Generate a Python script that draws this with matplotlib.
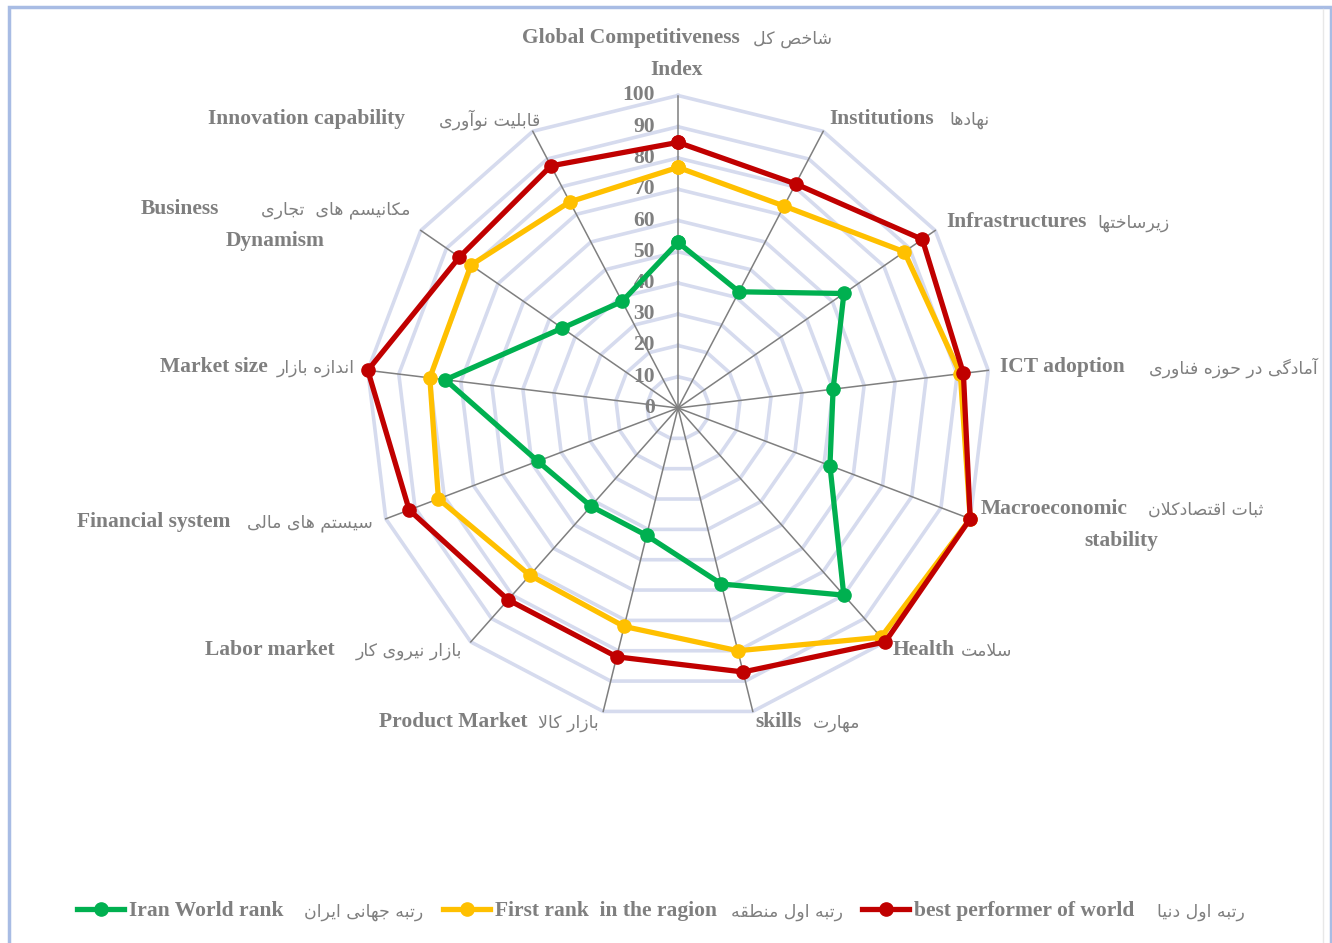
import numpy as np
import matplotlib.pyplot as plt
from matplotlib.patches import Rectangle
from matplotlib.transforms import offset_copy

# داده ها
labels_en = ['Global Competitiveness\nIndex', 'Institutions', 'Infrastructures', 'ICT adoption',
             'Macroeconomic\nstability', 'Health', 'skills', 'Product Market', 'Labor market',
             'Financial system', 'Market size', 'Business\nDynamism', 'Innovation capability']
labels_fa = ['شاخص کل', 'نهادها', 'زیرساختها', 'آمادگی در حوزه فناوری', 'ثبات اقتصادکلان',
             'سلامت', 'مهارت', 'بازار کالا', 'بازار نیروی کار', 'سیستم های مالی',
             'اندازه بازار', 'مکانیسم های  تجاری', 'قابلیت نوآوری']
iran = [53, 42, 64.5, 50, 52, 80, 58, 42, 42, 48, 75, 45, 38.5]
region = [77, 73, 88, 91, 100, 98, 80, 72, 71.5, 82, 80, 80.5, 74.5]
best = [85, 81, 95, 92, 100, 100, 87, 82, 82, 92, 100, 85, 87.5]
series_en = ['Iran World rank', 'First rank  in the ragion', 'best performer of world']
series_fa = ['رتبه جهانی ایران', 'رتبه اول منطقه', 'رتبه اول دنیا']
levels = list(range(0, 101, 10))

# شکل دادن حروف فارسی (matplotlib خودش این کار را نمی کند)
FORMS = {
    'ا': ('\uFE8D', '\uFE8E', None, None), 'آ': ('\uFE81', '\uFE82', None, None),
    'ب': ('\uFE8F', '\uFE90', '\uFE91', '\uFE92'), 'ت': ('\uFE95', '\uFE96', '\uFE97', '\uFE98'),
    'ث': ('\uFE99', '\uFE9A', '\uFE9B', '\uFE9C'), 'ج': ('\uFE9D', '\uFE9E', '\uFE9F', '\uFEA0'),
    'ح': ('\uFEA1', '\uFEA2', '\uFEA3', '\uFEA4'), 'خ': ('\uFEA5', '\uFEA6', '\uFEA7', '\uFEA8'),
    'د': ('\uFEA9', '\uFEAA', None, None), 'ر': ('\uFEAD', '\uFEAE', None, None),
    'ز': ('\uFEAF', '\uFEB0', None, None), 'س': ('\uFEB1', '\uFEB2', '\uFEB3', '\uFEB4'),
    'ش': ('\uFEB5', '\uFEB6', '\uFEB7', '\uFEB8'), 'ص': ('\uFEB9', '\uFEBA', '\uFEBB', '\uFEBC'),
    'ط': ('\uFEC1', '\uFEC2', '\uFEC3', '\uFEC4'), 'ف': ('\uFED1', '\uFED2', '\uFED3', '\uFED4'),
    'ق': ('\uFED5', '\uFED6', '\uFED7', '\uFED8'), 'ک': ('\uFB8E', '\uFB8F', '\uFB90', '\uFB91'),
    'گ': ('\uFB92', '\uFB93', '\uFB94', '\uFB95'), 'ل': ('\uFEDD', '\uFEDE', '\uFEDF', '\uFEE0'),
    'م': ('\uFEE1', '\uFEE2', '\uFEE3', '\uFEE4'), 'ن': ('\uFEE5', '\uFEE6', '\uFEE7', '\uFEE8'),
    'ه': ('\uFEE9', '\uFEEA', '\uFEEB', '\uFEEC'), 'و': ('\uFEED', '\uFEEE', None, None),
    'ی': ('\uFBFC', '\uFBFD', '\uFBFE', '\uFBFF'),
}
LAM_ALEF = {'ا': ('\uFEFB', '\uFEFC'), 'آ': ('\uFEF5', '\uFEF6')}


def fa(s):
    s = s.replace('ي', 'ی').replace('ك', 'ک')
    units = []
    i = 0
    while i < len(s):
        if s[i] == 'ل' and i + 1 < len(s) and s[i + 1] in LAM_ALEF:
            units.append('L' + s[i + 1])
            i += 2
        else:
            units.append(s[i])
            i += 1
    out = []
    for k, u in enumerate(units):
        prev = units[k - 1] if k > 0 else None
        nxt = units[k + 1] if k + 1 < len(units) else None
        p = prev in FORMS and FORMS[prev][2] is not None
        n = nxt is not None and (nxt in FORMS or nxt[0] == 'L' and len(nxt) == 2)
        if len(u) == 2:
            out.append(LAM_ALEF[u[1]][1 if p else 0])
        elif u in FORMS:
            f = FORMS[u]
            if p and n and f[2]:
                out.append(f[3])
            elif p:
                out.append(f[1])
            elif n and f[2]:
                out.append(f[2])
            else:
                out.append(f[0])
        else:
            out.append(u)
    return ''.join(reversed(out))


W, H = 1332, 943
grey = '#7F7F7F'
fs = 15.5
fs_fa = 12.5
en_font = dict(fontsize=fs, fontweight='bold', color=grey, family='Liberation Serif')
fa_font = dict(fontsize=fs_fa, color=grey, family='DejaVu Sans')


def px(x, y):
    return x / W, 1 - y / H


fig = plt.figure(figsize=(W / 100, H / 100), dpi=100)
fig.patches.append(Rectangle((8.5 / W, -0.05), (1331 - 8.5) / W, 1.05 - 7.5 / H, transform=fig.transFigure,
                             fill=False, edgecolor='#A8BCE4', linewidth=2.5))
fig.lines.append(plt.Line2D([1323 / W, 1323 / W], [0, 1 - 9 / H], transform=fig.transFigure,
                            color='#E8E8E8', linewidth=1))

cx, cy, R = 678, 408, 312.5
ax = fig.add_axes([(cx - R) / W, (H - cy - R) / H, 2 * R / W, 2 * R / H], projection='polar')
ax.set_theta_zero_location('N')
ax.set_theta_direction(-1)
ax.set_ylim(0, 100)
ax.set_axis_off()

n = len(labels_en)
theta = np.linspace(0, 2 * np.pi, n, endpoint=False)
tc = np.append(theta, theta[0])

for lv in levels[1:]:
    ax.plot(tc, [lv] * (n + 1), color='#D6DBEE', linewidth=2.6, zorder=1, clip_on=False)
for t in theta:
    ax.plot([t, t], [0, 100], color='#7F7F7F', linewidth=1.1, zorder=2, clip_on=False)

tr = offset_copy(ax.transData, fig=fig, x=-23, y=0, units='dots')
for lv in levels:
    ax.text(0, lv, str(lv), transform=tr, ha='right', va='center', zorder=3, **en_font)

colors = ['#00B050', '#FFC000', '#C00000']
handles = []
for vals, c in zip([iran, region, best], colors):
    v = np.append(vals, vals[0])
    h, = ax.plot(tc, v, color=c, linewidth=3.8, marker='o', markersize=9.5, zorder=4, clip_on=False)
    handles.append(h)

# برچسب محورها: شروع متن انگلیسی، پایان متن فارسی، y سطر اول، x وسط سطر دوم
en_x = [522, 829, 946, 1000, 981, 893, 755, 379, 205, 77, 160, 141, 208]
fa_x = [832, 990, 1170, 1318, 1263, 1012, 860, 599, 462, 373, 355, 410, 540]
lab_y = [38, 119, 222, 367, 509, 650, 722, 722, 650, 522, 367, 209, 119]
line2_x = [677, None, None, None, 1121, None, None, None, None, None, None, 275, None]
for en, f, x0, x1, y, x2 in zip(labels_en, labels_fa, en_x, fa_x, lab_y, line2_x):
    lines = en.split('\n')
    fig.text(*px(x0, y), lines[0], ha='left', va='center', **en_font)
    fig.text(*px(x1, y + 1), fa(f), ha='right', va='center', **fa_font)
    if len(lines) > 1:
        fig.text(*px(x2, y + 32), lines[1], ha='center', va='center', **en_font)

# راهنما
leg_x = [77, 443, 862]
leg_fa_x = [423, 843, 1245]
for h, e, f, x0, x1 in zip(handles, series_en, series_fa, leg_x, leg_fa_x):
    leg = fig.legend([h], [e], loc='center left', bbox_to_anchor=px(x0, 911), frameon=False,
                     borderpad=0, borderaxespad=0, handlelength=2.2, handletextpad=0.2,
                     prop={'family': 'Liberation Serif', 'weight': 'bold', 'size': fs})
    leg.get_texts()[0].set_color(grey)
    fig.text(*px(x1, 912), fa(f), ha='right', va='center', **fa_font)

fig.savefig('out.png', dpi=100)
